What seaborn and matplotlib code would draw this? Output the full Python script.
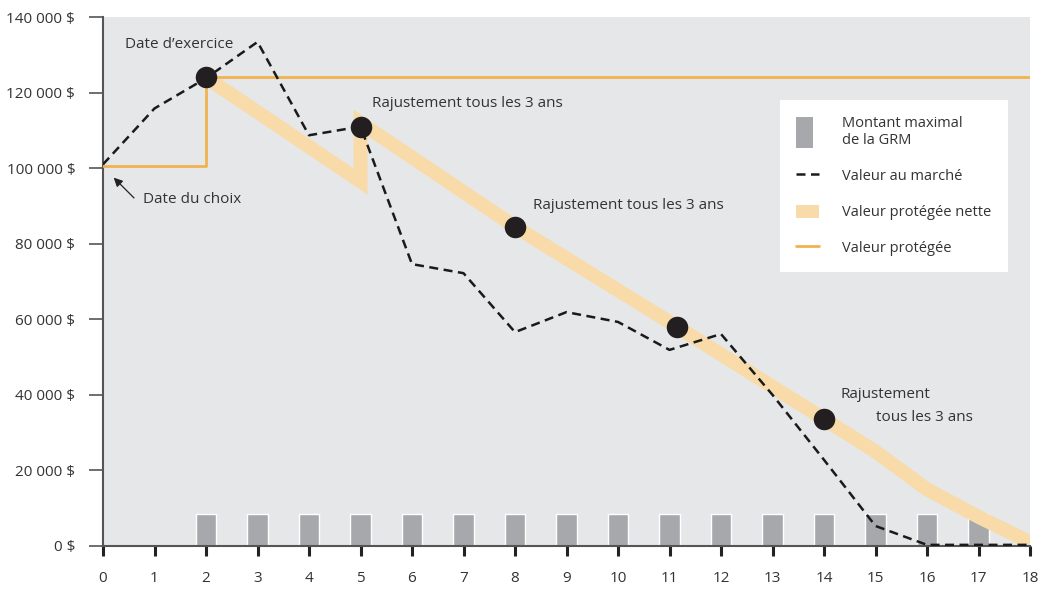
import matplotlib
matplotlib.use("Agg")
import matplotlib.pyplot as plt
import seaborn as sns
import pandas as pd
import numpy as np
from matplotlib.patches import Patch
from matplotlib.lines import Line2D

# ---- data ----
years = list(range(0, 19))
market_value = [101000, 115800, 123800, 133400, 108700, 111000, 74600, 72200,
                56600, 61900, 59300, 51900, 56100, 40000, 22800, 5300, 300, 300, 300]

protected_x = [0, 2, 2, 18]
protected_y = [100500, 100500, 124000, 124000]

net_x = [2, 5, 5, 8, 11.15, 14, 15, 16, 17, 18]
net_y = [124000, 96500, 112000, 84500, 58000, 33600, 25000, 15000, 7700, 1000]

reset_x = [2, 5, 8, 11.15, 14]
reset_y = [124000, 111000, 84500, 58000, 33600]

grm_years = list(range(2, 18))
grm_values = [8500] * 16

yticks = [0, 20000, 40000, 60000, 80000, 100000, 120000, 140000]
ytick_labels = ["0 $", "20 000 $", "40 000 $", "60 000 $", "80 000 $",
                "100 000 $", "120 000 $", "140 000 $"]

# ---- style ----
sns.set_theme(style="white")
plt.rcParams["font.family"] = ["Open Sans", "DejaVu Sans"]
TXT = "#333333"
BG = "#e6e7e8"
BAND = "#f8dba9"
ORANGE = "#f0b350"
GREY = "#a7a8ab"

fig = plt.figure(figsize=(10.43, 5.90), dpi=100)
ax = fig.add_axes([103 / 1043, 1 - 546 / 590, (1030 - 103) / 1043, (546 - 17) / 590])
ax.set_facecolor(BG)

# bars (GRM)
df_bars = pd.DataFrame({"x": grm_years, "y": grm_values})
ax.bar(df_bars["x"], df_bars["y"], width=0.4, color=GREY, zorder=1)

# net protected value band
df_net = pd.DataFrame({"x": net_x, "y": net_y})
sns.lineplot(data=df_net, x="x", y="y", ax=ax, color=BAND, linewidth=10,
             sort=False, estimator=None, solid_capstyle="butt",
             solid_joinstyle="miter", zorder=2)

# protected value
df_prot = pd.DataFrame({"x": protected_x, "y": protected_y})
sns.lineplot(data=df_prot, x="x", y="y", ax=ax, color=ORANGE, linewidth=2,
             sort=False, estimator=None, zorder=3)

# market value
df_mkt = pd.DataFrame({"x": years, "y": market_value})
sns.lineplot(data=df_mkt, x="x", y="y", ax=ax, color="#1a1a1a", linewidth=1.8,
             estimator=None, zorder=4)
ax.lines[-1].set_linestyle((0, (3.6, 2.2)))

# reset points
ax.scatter(reset_x, reset_y, s=240, color="#231f20", zorder=5, linewidths=0)

# annotations
fs = 11
ax.text(0.43, 132600, "Date d\u2019exercice", fontsize=fs, color=TXT, va="center", ha="left")
ax.text(5.22, 117200, "Rajustement tous les 3 ans", fontsize=fs, color=TXT, va="center", ha="left")
ax.text(8.35, 90200, "Rajustement tous les 3 ans", fontsize=fs, color=TXT, va="center", ha="left")
ax.text(14.33, 40000, "Rajustement", fontsize=fs, color=TXT, va="center", ha="left")
ax.text(15.0, 33900, "tous les 3 ans", fontsize=fs, color=TXT, va="center", ha="left")
ax.text(0.78, 91600, "Date du choix", fontsize=fs, color=TXT, va="center", ha="left")
ax.annotate("", xy=(0.17, 98000), xytext=(0.64, 91600),
            arrowprops=dict(arrowstyle="-|>", color="#222222", lw=0.9, mutation_scale=13))

# axes
ax.set_xlim(0, 18)
ax.set_ylim(0, 140000)
ax.set_xticks(years)
ax.set_xticklabels([str(v) for v in years], fontsize=fs, color=TXT)
ax.set_yticks(yticks)
ax.set_yticklabels(ytick_labels, fontsize=fs, color=TXT)
ax.set_xlabel("")
ax.set_ylabel("")
for s in ["top", "right"]:
    ax.spines[s].set_visible(False)
for s in ["left", "bottom"]:
    ax.spines[s].set_color("#555555")
    ax.spines[s].set_linewidth(1.5)
ax.tick_params(axis="y", left=True, direction="out", length=10, width=1.2,
               color="#555555", pad=10)
ax.tick_params(axis="x", bottom=True, direction="out", length=7, width=2.2,
               color="#222222", pad=11)

# legend
handles = [
    Patch(facecolor=GREY, edgecolor="none"),
    Line2D([0], [0], color="#1a1a1a", lw=1.8, linestyle=(0, (3.6, 2.2))),
    Patch(facecolor=BAND, edgecolor="none"),
    Line2D([0], [0], color=ORANGE, lw=2),
]
labels = ["Montant maximal\nde la GRM", "Valeur au marché",
          "Valeur protégée nette", "Valeur protégée"]
leg = ax.legend(handles, labels, loc="upper left", bbox_to_anchor=(0.730, 0.843),
                borderaxespad=0,
                frameon=True, fancybox=False, framealpha=1, edgecolor="white",
                facecolor="white", fontsize=10.5, labelcolor=TXT, handlelength=1.6,
                handleheight=1.0, labelspacing=1.4, borderpad=1.1, handletextpad=1.6)
leg.get_frame().set_linewidth(0)
# make the GRM handle tall like the reference
h0 = leg.legend_handles[0]
hh = h0.get_height()
h0.set_height(hh * 2.4)
h0.set_y(h0.get_y() - hh * 0.7)
w0 = h0.get_width()
h0.set_width(w0 * 0.75)

fig.savefig("out.png", dpi=100)
